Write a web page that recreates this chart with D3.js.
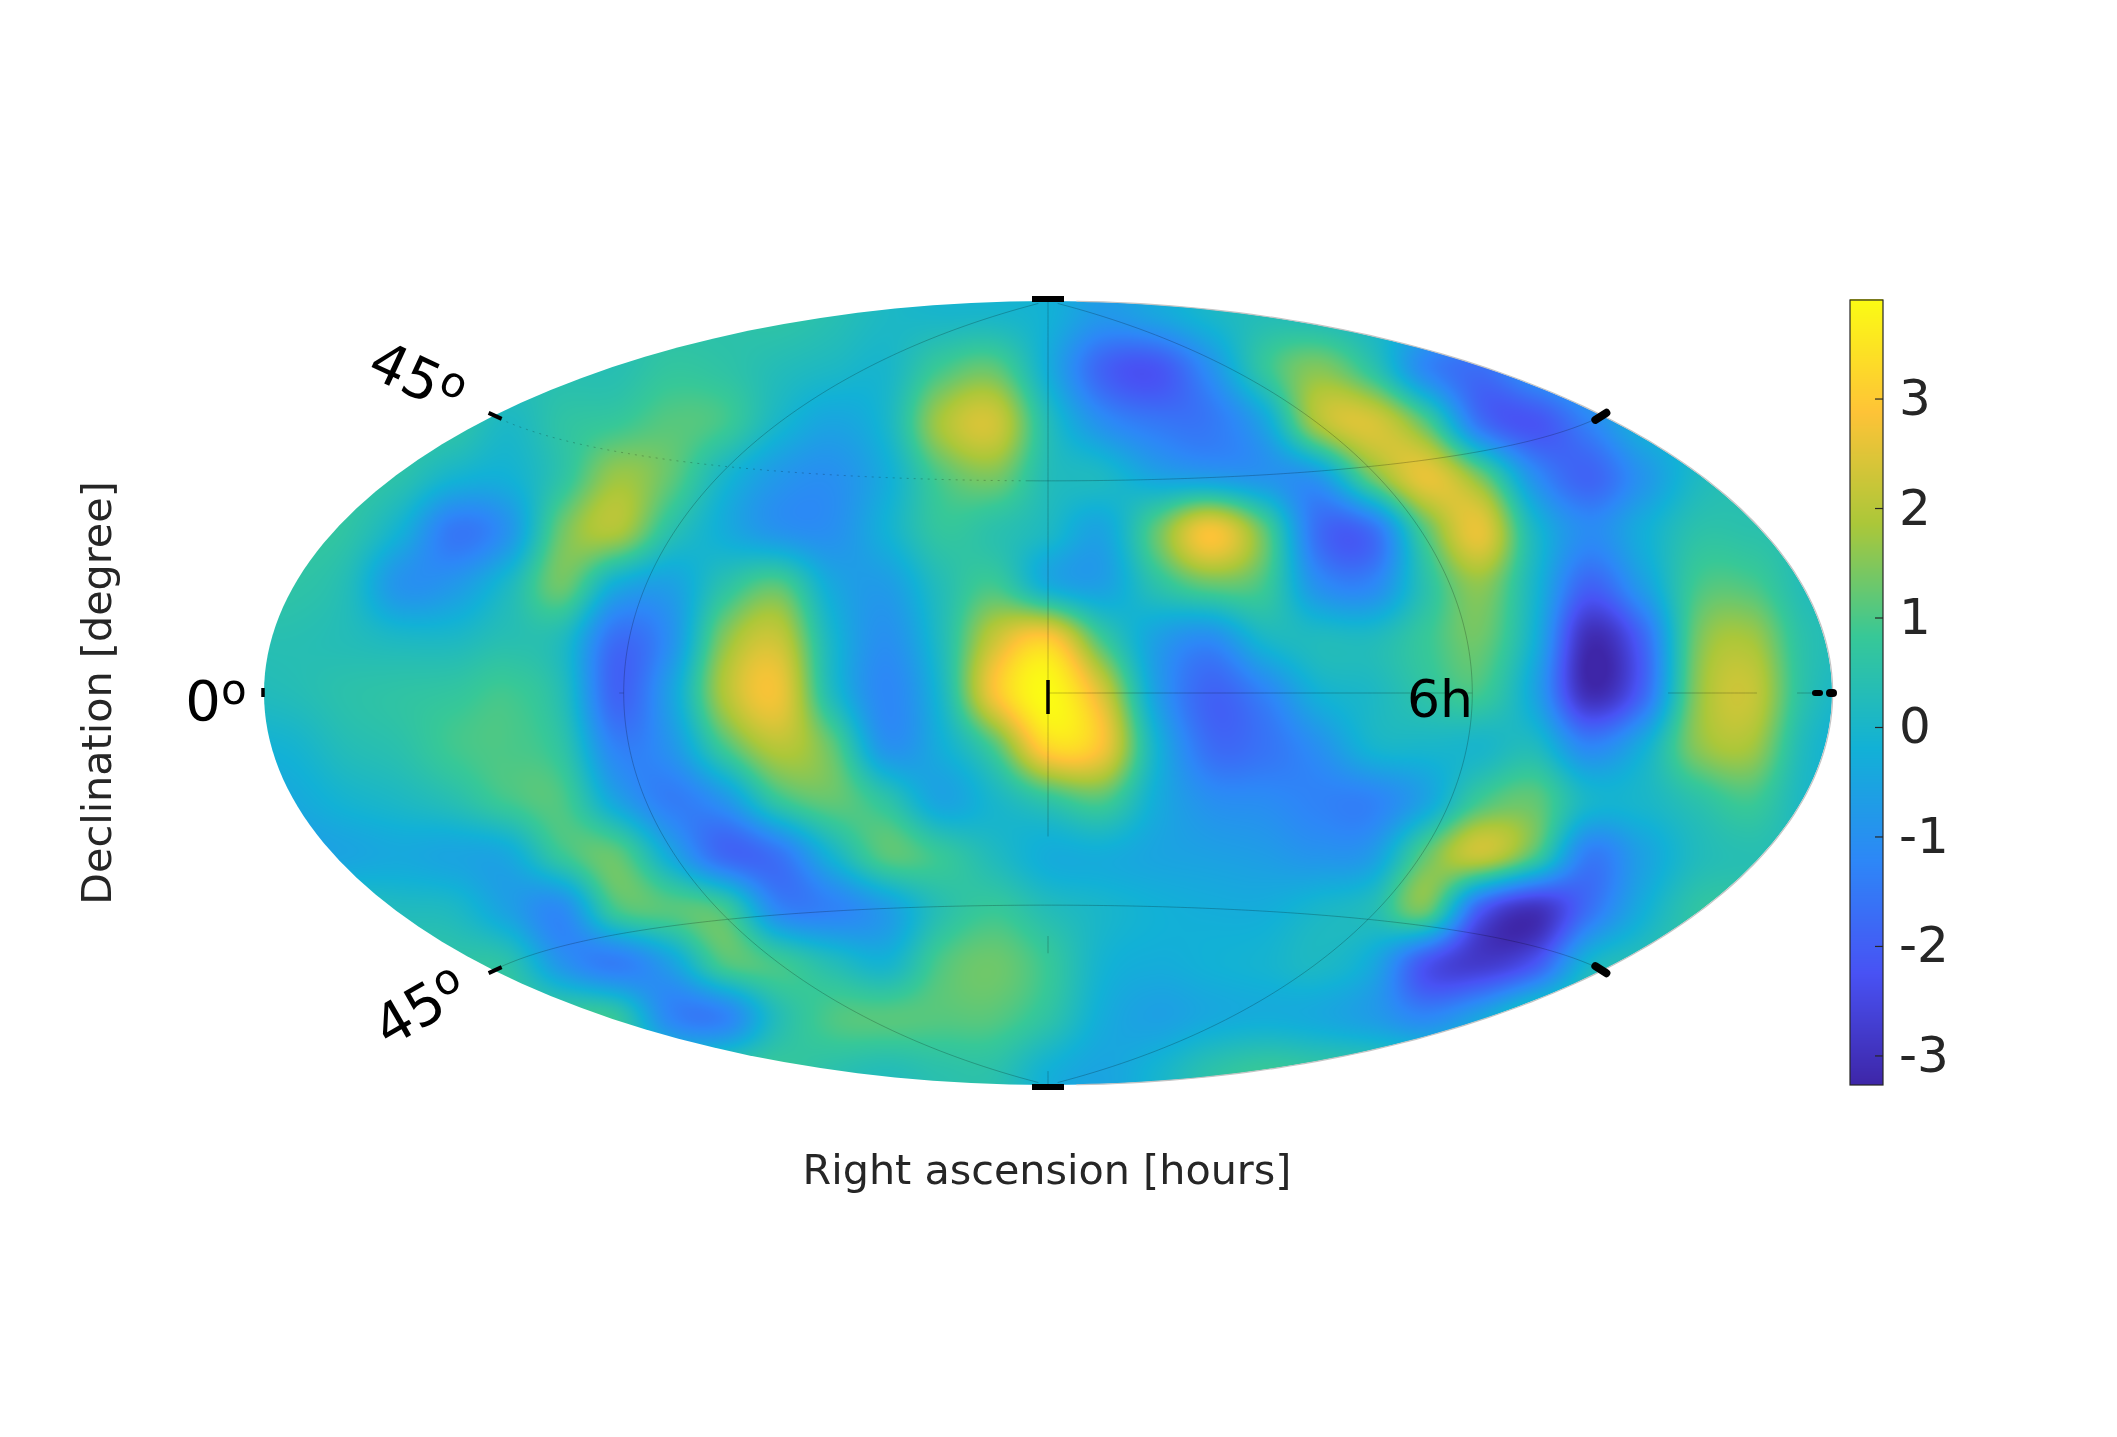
<!DOCTYPE html>
<html><head><meta charset="utf-8">
<style>html,body{margin:0;padding:0;background:#fff}#wrap{position:relative;width:2117px;height:1437px;overflow:hidden}canvas,svg{position:absolute;left:0;top:0}text{font-family:"DejaVu Sans"}</style>
<script src="https://cdn.jsdelivr.net/npm/d3@7"></script></head>
<body><div id="wrap"><canvas id="sky" width="2117" height="1437"></canvas><svg id="svg" width="2117" height="1437"></svg></div>
<script>
// Field values, on a regular grid across the projected map (row by row, top to bottom)
const skyRows = [
[.5,.5,.5,.5,.5,.5,.5,.5,.5,.5,.6,.4,.1,0,0,-.2,-.8,-.5,0,.3,.2,0,-.1,-.2,-.2,-.2,-.2,0,0,0,0],
[.5,.5,.5,.5,.5,.5,.5,.5,.5,.5,.6,.4,.1,0,0,-.2,-.8,-.5,0,.3,.2,0,-.1,-.2,-.2,-.2,-.2,0,0,0,0],
[.6,.6,.6,.5,.5,.4,.4,.4,.7,.6,.3,.1,0,.9,1.2,-.3,-1.9,-2.2,-1,.7,1.5,.6,-1.2,-1.7,-.8,-.3,-.2,0,0,0,0],
[.7,.7,.7,.6,.6,.1,.6,.8,1.1,.9,0,-.5,0,1.8,2.3,.3,-1,-1.5,-1.5,-.5,1.9,2.4,1.1,-1.6,-2.2,-1.3,-.2,0,.1,.1,.1],
[.7,.7,.7,.5,-.1,-.2,.6,1.7,1.2,0,-.8,-1,-.3,1,1.4,.3,.1,-.5,-.7,-.9,-.8,1.3,2.6,1.4,-1,-1.9,-.9,.1,.4,.4,.4],
[.7,.7,.6,-.2,-1.5,-.9,1.3,1.9,.5,-.3,-.9,-1,-.2,.7,.5,.1,-.5,1.2,2.8,1.2,-1.7,-1.7,1.1,2.6,.1,-1.1,-.3,.5,.5,.4,.4],
[.6,.6,.3,-.9,-.8,.1,1.3,-.3,-.6,.5,1.1,-.4,-.7,.3,.9,-.3,-.6,.5,1.2,.9,-1,-1.2,.5,1.6,0,-1.9,-.7,.9,1,.3,.3],
[.4,.4,.3,.1,.1,.4,.2,-1.7,-1,1.5,2.2,0,-1,.2,2.2,3,.9,-.6,-1.1,0,.2,.2,.8,1.3,-.2,-3.1,-1.9,1.3,1.8,.5,.3],
[.2,.3,.5,.6,.7,.9,.3,-1.9,-.6,1.9,2.7,.2,-1.2,0,2.8,3.9,2.4,-.6,-1.9,-1.3,-.2,.1,.6,.9,-.5,-3.1,-1.9,1.5,2.2,.5,-.1],
[-.2,-.1,.3,.5,.9,1,.6,-1.3,-.9,.9,2,1.2,-.9,-.3,1,3.2,2.8,-.1,-1.7,-1.6,-1,-.1,0,0,.2,-1.2,-.3,1.5,1.8,.2,-.3],
[-.5,-.4,-.1,.1,.4,.9,1,-.5,-1.4,-.9,.7,1.2,.6,-.5,0,.6,1,-.3,-1,-1.1,-1.3,-1.3,-.5,.9,1.2,0,0,.5,.9,.1,.1],
[-.6,-.6,-.5,-.4,-.5,-.4,.8,1.2,-.4,-1.8,-1.6,-.1,1.1,.8,.2,-.3,-.3,-.5,-.6,-.7,-.9,-.7,1.2,2.2,1,-1.4,-.6,.2,.4,.3,.3],
[.3,.3,.3,.2,.1,-.6,-1.1,.9,1.1,.9,-1.2,-1.3,-.7,.4,.8,.3,0,-.2,-.3,-.3,0,.3,1.3,-2,-3,-1.7,-.3,.6,.7,.7,.7],
[.6,.6,.6,.6,.6,.5,-.9,-1.4,-.6,1,.9,.3,-.1,1,1.3,.8,-.1,-.3,-.2,-.1,.1,-.4,-2.2,-2.8,-2.2,-.1,.4,.6,.7,.7,.7],
[.7,.7,.7,.7,.7,.8,.9,.7,-1.2,-1.3,.3,1,1.1,1.1,1.1,.6,-.3,-.6,-.4,-.3,-.4,-.7,-1.2,-.5,.6,.7,.7,.7,.7,.7,.7],
[.7,.7,.7,.7,.7,.7,.7,.7,.7,.8,.8,.5,.3,.5,.5,-.2,-.5,-.1,.5,.8,.7,.7,.7,.7,.7,.7,.7,.7,.7,.7,.7],
[.7,.7,.7,.7,.7,.7,.7,.7,.7,.8,.8,.5,.3,.5,.5,-.2,-.5,-.1,.5,.8,.7,.7,.7,.7,.7,.7,.7,.7,.7,.7,.7]
];
const parulaStops = ["#3e26a8","#4852f4","#2d87f7","#12b1d6","#37c897","#abc739","#fec337","#fbfb14"];
const colorTicks = [-3,-2,-1,0,1,2,3];
const colorDomain = [-3.27,3.9];
const decLabels = ["45","0","45"];

const W=2117,H=1437, cx=1048, cy=693, hw=784, hh=392;
const S=1.35;
// Hammer projection
function hammerRaw(l,p){const c=Math.cos(p),d=Math.sqrt(1+c*Math.cos(l/2));return [2*Math.SQRT2*c*Math.sin(l/2)/d, Math.SQRT2*Math.sin(p)/d];}
hammerRaw.invert=function(x,y){const z=Math.sqrt(1-x*x/16-y*y/4);return [2*Math.atan2(z*x,2*(2*z*z-1)),Math.asin(z*y)];};
const projection=d3.geoProjection(hammerRaw).rotate([0,0]).scale(hw/(2*Math.SQRT2)).translate([cx,cy]).precision(.2);

const col=d3.scaleLinear().domain([0,skyRows[0].length-1]).range([176*S,1376*S]);
const row=d3.scaleLinear().domain([0,skyRows.length-1]).range([193*S,833*S]);
const parula=d3.scaleLinear().domain(d3.range(parulaStops.length).map(i=>colorDomain[0]+(colorDomain[1]-colorDomain[0])*i/(parulaStops.length-1))).range(parulaStops).interpolate(d3.interpolateRgb).clamp(true);

const lut=d3.range(1024).map(i=>{const c=d3.rgb(parula(colorDomain[0]+(colorDomain[1]-colorDomain[0])*i/1023));return [c.r,c.g,c.b];});
const nR=skyRows.length,nC=skyRows[0].length;
const cr=(a,b,c,d,t)=>b+.5*t*(c-a+t*(2*a-5*b+4*c-d+t*(3*(b-c)+d-a)));
const at=(r,c)=>skyRows[Math.max(0,Math.min(nR-1,r))][Math.max(0,Math.min(nC-1,c))];
function sample(u,v){const c0=Math.floor(u),r0=Math.floor(v),tu=u-c0,tv=v-r0,rows=[];
 for(let k=-1;k<=2;k++)rows.push(cr(at(r0+k,c0-1),at(r0+k,c0),at(r0+k,c0+1),at(r0+k,c0+2),tu));
 return cr(rows[0],rows[1],rows[2],rows[3],tv);}

const ctx=document.getElementById("sky").getContext("2d");
const off=document.createElement("canvas");off.width=W;off.height=H;const octx=off.getContext("2d");
const img=octx.createImageData(W,H);
for(let y=290;y<1095;y++)for(let x=250;x<1845;x++){
 const v=sample(col.invert(x),row.invert(y));
 const idx=Math.max(0,Math.min(1023,Math.round((v-colorDomain[0])/(colorDomain[1]-colorDomain[0])*1023)));
 const c=lut[idx],o=(y*W+x)*4;img.data[o]=c[0];img.data[o+1]=c[1];img.data[o+2]=c[2];img.data[o+3]=255;}
octx.putImageData(img,0,0);
ctx.save();ctx.beginPath();d3.geoPath(projection,ctx)({type:"Sphere"});ctx.clip();ctx.drawImage(off,0,0);ctx.restore();

const svg=d3.select("#svg"),geo=d3.geoPath(projection);
svg.append("path").attr("fill","none").attr("stroke","#c4c4c4").attr("stroke-width",1.2)
 .attr("d",d3.line()(d3.range(-88,89,1).map(p=>{const q=projection([179.9,p]);return [q[0]+1,q[1]];})));
const g=svg.append("g").attr("fill","none").attr("stroke","#000").attr("stroke-opacity",.32).attr("stroke-width",.7);
const line=(pts)=>({type:"LineString",coordinates:pts});
const seg=(f,a,b)=>d3.range(a,b+.01,1).map(f);
[-90,90].forEach(l=>g.append("path").attr("d",geo(line(seg(p=>[l,p],-89,89)))));
g.append("path").attr("d",geo(line(seg(p=>[0,p],-30,90))));
g.append("path").attr("d",geo(line(seg(p=>[0,p],-56,-52))));
g.append("path").attr("d",geo(line(seg(p=>[0,p],-90,-86))));
[[0,90],[136,159],[170,176]].forEach(([a,b])=>g.append("path").attr("d",geo(line(seg(l=>[l,0],a,b)))));
g.append("path").attr("d",geo(line(seg(l=>[-l,0],90,91))));
g.append("path").attr("d",geo(line(seg(l=>[l,45],-6,180))));
g.append("path").attr("d",geo(line(seg(l=>[l,45],-180,-6)))).attr("stroke-dasharray","2 5");
g.append("path").attr("d",geo(line(seg(l=>[l,-45],-180,180))));

const k=svg.append("g").attr("stroke","#000").attr("fill","none");
const P=projection;
const tick=(a,b,w,cap)=>k.append("path").attr("d",d3.line()([a,b])).attr("stroke-width",w).attr("stroke-linecap",cap||"butt");
tick([cx-16,299],[cx+16,299],6);
tick([cx-16,1087],[cx+16,1087],6);
tick([cx,680],[cx,714],3.5);
let q=P([-180,45]);tick([q[0]-5,q[1]-3],[q[0]+8,q[1]+3],4);
q=P([-180,-45]);tick([q[0]-5,q[1]+3],[q[0]+8,q[1]-3],4);
q=P([180,45]);tick([q[0]-7,q[1]+4],[q[0]+4,q[1]-3],8,"round");
q=P([180,-45]);tick([q[0]-7,q[1]-4],[q[0]+4,q[1]+3],8,"round");
tick([263,688],[263,697],3.5);
tick([1815,693],[1820,693],6,"round");tick([1830,693],[1833,693],8,"round");

const lab=svg.append("g").attr("fill","#000").attr("font-size",56);
function deg(x,y,rot,s){const t=lab.append("text").attr("transform",`translate(${x},${y}) rotate(${rot})`).attr("text-anchor","middle");
 t.append("tspan").text(s);t.append("tspan").attr("font-size",42).attr("dy",-16).text("o");}
deg(409,395,25,decLabels[0]);
deg(216,720,0,decLabels[1]);
deg(430,1024,-30,decLabels[2]);
lab.append("text").attr("x",1440).attr("y",717).attr("text-anchor","middle").attr("font-size",52).text("6h");

svg.append("text").attr("x",1047).attr("y",1184).attr("text-anchor","middle").attr("font-size",41.3).attr("fill","#262626").text("Right ascension [hours]");
svg.append("text").attr("transform","translate(111,693) rotate(-90)").attr("text-anchor","middle").attr("font-size",41.3).attr("fill","#262626").text("Declination [degree]");

const barY=d3.scaleLinear().domain(colorDomain).range([1085,300]);
const bar=svg.append("g").attr("shape-rendering","crispEdges");
bar.selectAll("rect").data(d3.range(colorDomain[0],colorDomain[1],.0092)).join("rect")
 .attr("x",1850).attr("width",33).attr("y",d=>Math.floor(barY(d+.0092))).attr("height",2).attr("fill",d=>parula(d));
svg.append("rect").attr("x",1850).attr("y",300).attr("width",33).attr("height",785).attr("fill","none").attr("stroke","#262626").attr("stroke-width",1.2);
const ax=svg.append("g").attr("transform","translate(1883,0)").call(d3.axisRight(barY).tickValues(colorTicks).tickSize(0).tickPadding(16).tickFormat(d=>String(d)));
ax.select(".domain").remove();
ax.selectAll("text").attr("font-size",50).attr("fill","#262626").attr("font-family","DejaVu Sans");
ax.selectAll(".tick").append("line").attr("x1",-8).attr("x2",0).attr("stroke","#262626").attr("stroke-width",1.2);
</script></body></html>
